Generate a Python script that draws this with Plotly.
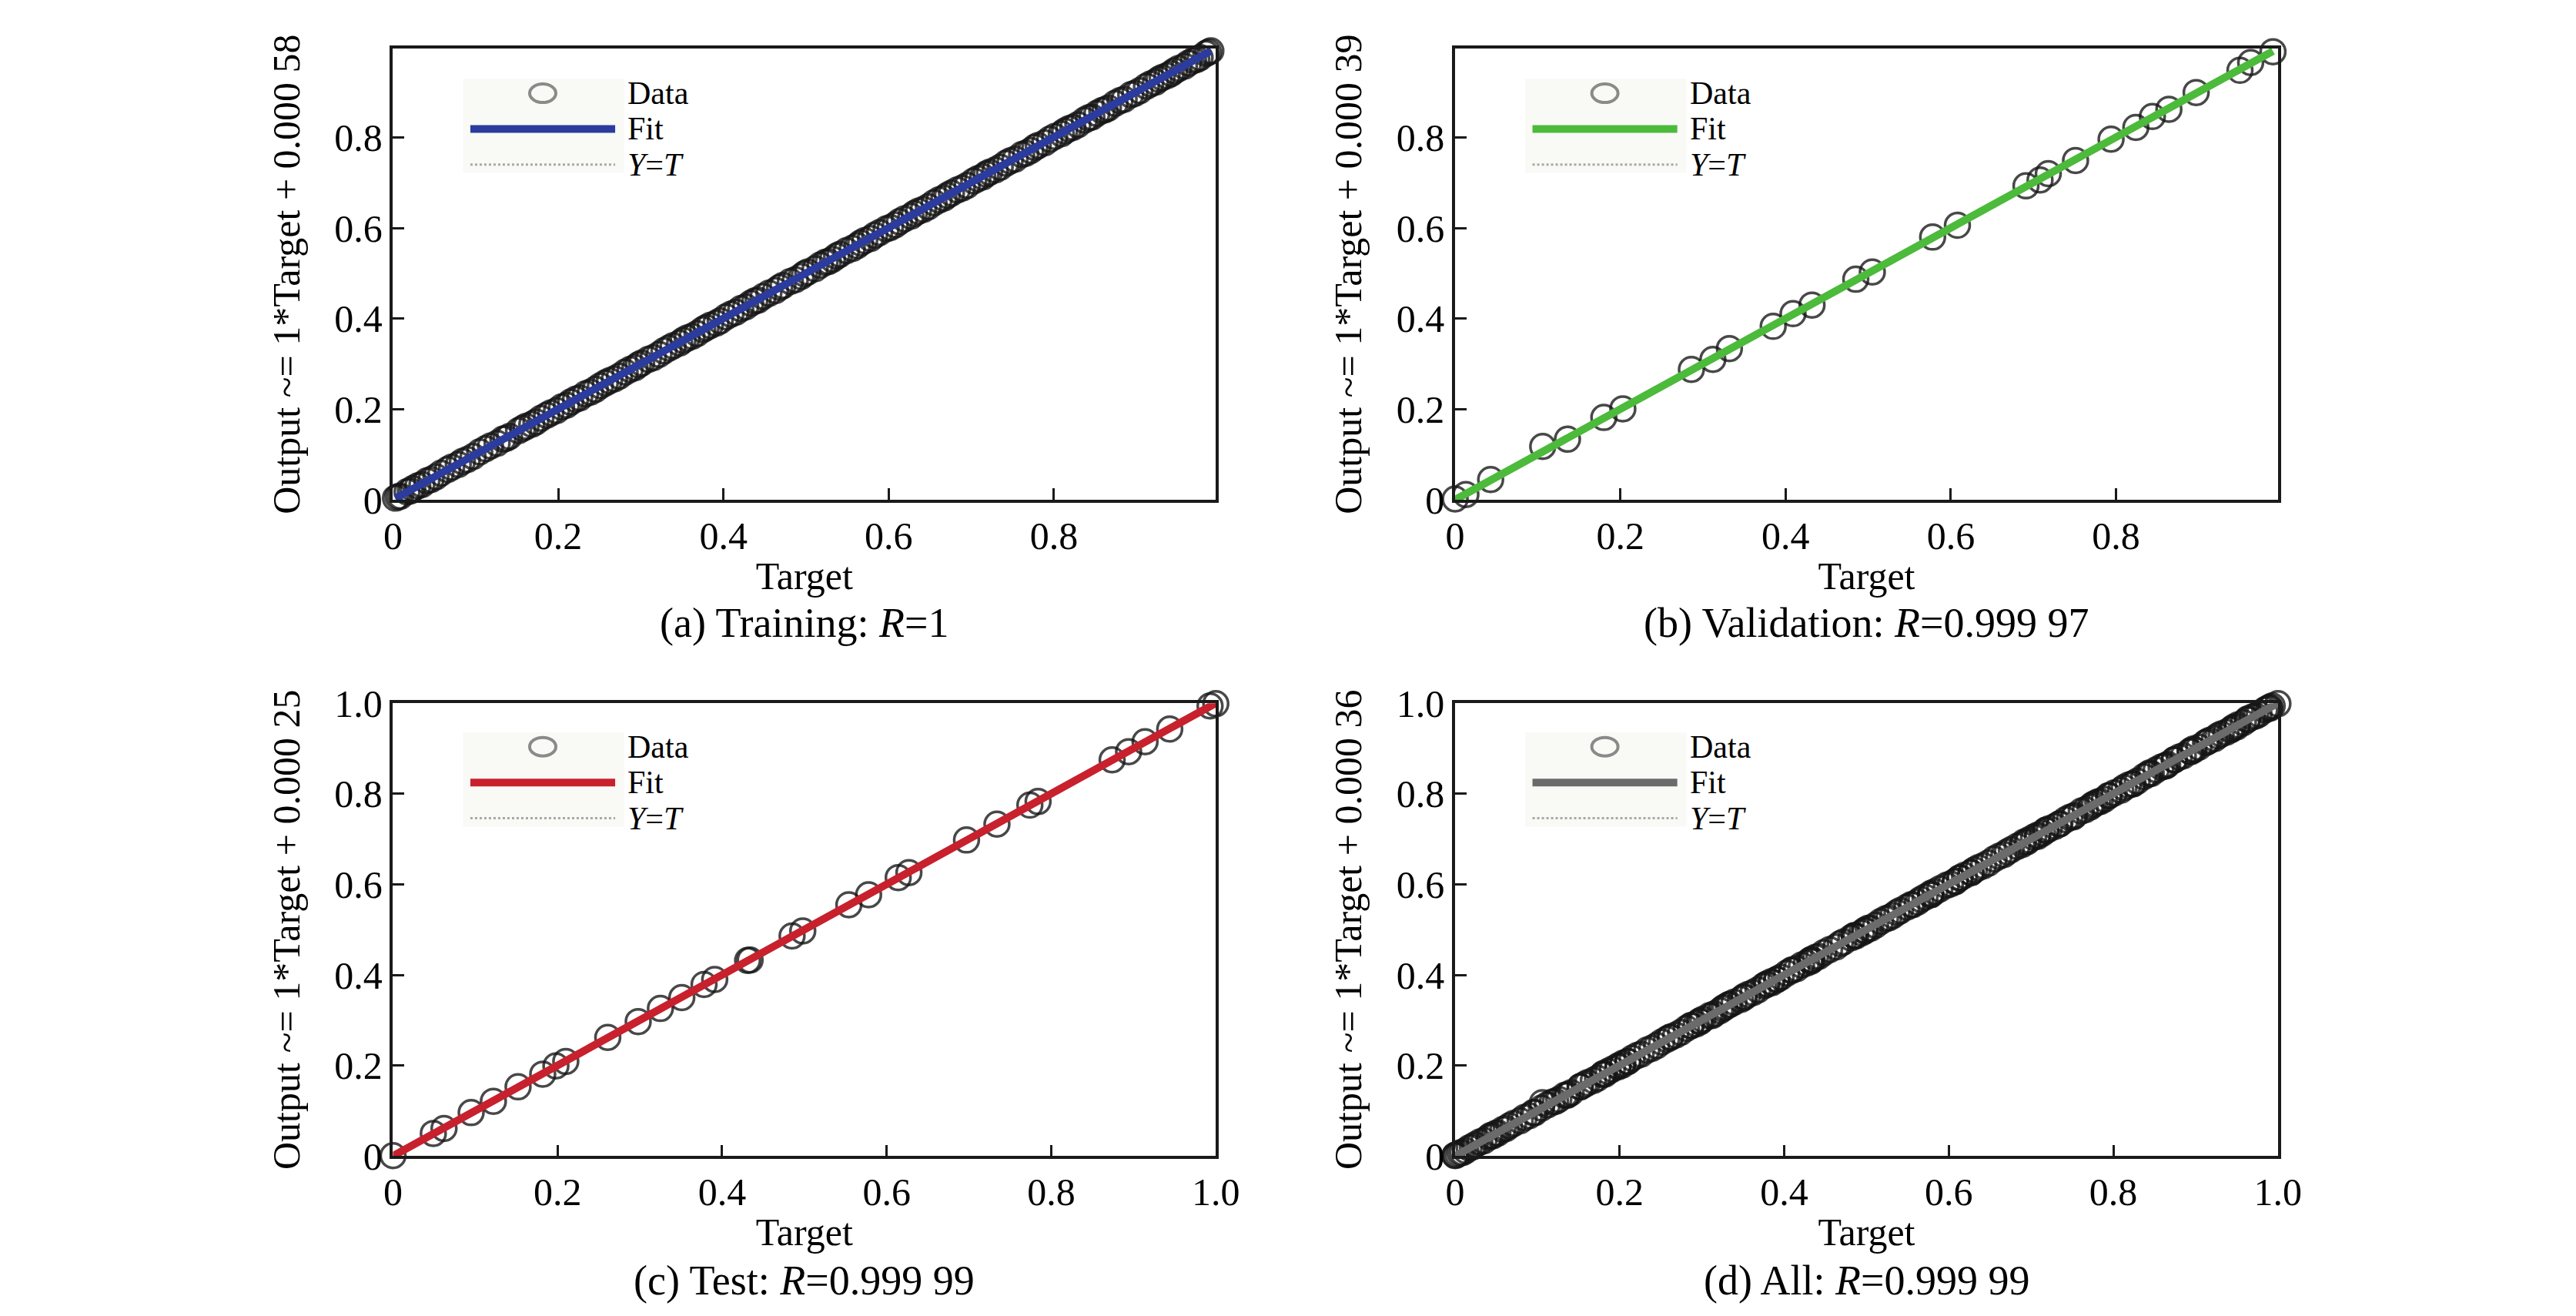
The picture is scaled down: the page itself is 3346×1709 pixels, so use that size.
import plotly.graph_objects as go
from plotly.subplots import make_subplots

# Training set (target, network output)
train_target = [0.003, 0.006, 0.009, 0.017, 0.021, 0.024, 0.030, 0.035, 0.041, 0.046, 0.052, 0.058, 0.066,
                0.071, 0.079, 0.084, 0.090, 0.097, 0.105, 0.112, 0.118, 0.126, 0.133, 0.137, 0.141, 0.152,
                0.157, 0.161, 0.168, 0.173, 0.179, 0.186, 0.191, 0.198, 0.204, 0.210, 0.215, 0.221, 0.226,
                0.233, 0.239, 0.245, 0.251, 0.257, 0.262, 0.268, 0.274, 0.281, 0.287, 0.293, 0.297, 0.301,
                0.309, 0.315, 0.322, 0.328, 0.334, 0.339, 0.347, 0.351, 0.356, 0.362, 0.368, 0.375, 0.379,
                0.384, 0.391, 0.396, 0.403, 0.409, 0.415, 0.421, 0.427, 0.433, 0.438, 0.442, 0.448, 0.455,
                0.463, 0.468, 0.472, 0.481, 0.487, 0.494, 0.498, 0.502, 0.511, 0.517, 0.523, 0.527, 0.532,
                0.537, 0.541, 0.549, 0.556, 0.562, 0.566, 0.571, 0.578, 0.583, 0.589, 0.597, 0.602, 0.608,
                0.613, 0.619, 0.627, 0.631, 0.636, 0.642, 0.648, 0.655, 0.661, 0.667, 0.671, 0.676, 0.683,
                0.689, 0.695, 0.703, 0.708, 0.714, 0.718, 0.722, 0.729, 0.735, 0.742, 0.747, 0.753, 0.761,
                0.766, 0.772, 0.777, 0.781, 0.789, 0.795, 0.801, 0.809, 0.813, 0.818, 0.823, 0.829, 0.837,
                0.842, 0.846, 0.852, 0.858, 0.862, 0.866, 0.874, 0.880, 0.885, 0.893, 0.898, 0.904, 0.912,
                0.917, 0.923, 0.927, 0.931, 0.937, 0.942, 0.946, 0.951, 0.958, 0.963, 0.969, 0.973, 0.977,
                0.984, 0.987, 0.990]
train_output = [0.004, 0.007, 0.008, 0.018, 0.020, 0.025, 0.031, 0.034, 0.042, 0.045, 0.051, 0.059, 0.067,
                0.072, 0.078, 0.085, 0.089, 0.096, 0.106, 0.113, 0.119, 0.125, 0.134, 0.136, 0.140, 0.153,
                0.158, 0.162, 0.167, 0.172, 0.180, 0.187, 0.192, 0.197, 0.205, 0.209, 0.216, 0.222, 0.225,
                0.234, 0.238, 0.244, 0.252, 0.258, 0.263, 0.267, 0.273, 0.282, 0.288, 0.292, 0.298, 0.302,
                0.310, 0.314, 0.321, 0.329, 0.335, 0.340, 0.346, 0.352, 0.357, 0.361, 0.367, 0.376, 0.380,
                0.385, 0.390, 0.395, 0.404, 0.410, 0.414, 0.422, 0.426, 0.434, 0.439, 0.441, 0.449, 0.456,
                0.462, 0.469, 0.473, 0.482, 0.486, 0.493, 0.499, 0.503, 0.510, 0.518, 0.524, 0.526, 0.531,
                0.538, 0.542, 0.550, 0.555, 0.561, 0.567, 0.572, 0.577, 0.584, 0.590, 0.598, 0.601, 0.607,
                0.614, 0.620, 0.626, 0.632, 0.637, 0.641, 0.647, 0.656, 0.662, 0.666, 0.672, 0.677, 0.684,
                0.688, 0.694, 0.704, 0.709, 0.713, 0.719, 0.723, 0.728, 0.734, 0.743, 0.748, 0.752, 0.762,
                0.765, 0.771, 0.778, 0.782, 0.788, 0.796, 0.802, 0.808, 0.814, 0.819, 0.822, 0.828, 0.838,
                0.843, 0.845, 0.853, 0.859, 0.861, 0.865, 0.875, 0.881, 0.884, 0.894, 0.897, 0.903, 0.913,
                0.918, 0.922, 0.928, 0.932, 0.936, 0.941, 0.947, 0.952, 0.957, 0.964, 0.970, 0.972, 0.976,
                0.985, 0.988, 0.991]

# Validation set
val_target = [0.000, 0.013, 0.043, 0.106, 0.136, 0.180, 0.203, 0.286, 0.312, 0.332, 0.385, 0.409, 0.432,
              0.485, 0.505, 0.578, 0.608, 0.691, 0.708, 0.718, 0.751, 0.794, 0.824, 0.844, 0.864, 0.897,
              0.950, 0.963, 0.990]
val_output = [0.002, 0.012, 0.045, 0.118, 0.134, 0.182, 0.201, 0.288, 0.310, 0.334, 0.383, 0.411, 0.430,
              0.487, 0.503, 0.580, 0.606, 0.693, 0.706, 0.720, 0.749, 0.796, 0.822, 0.846, 0.862, 0.899,
              0.948, 0.965, 0.989]

# Test set
test_target = [0.000, 0.049, 0.062, 0.095, 0.122, 0.152, 0.182, 0.198, 0.210, 0.261, 0.298, 0.325, 0.351,
               0.378, 0.391, 0.431, 0.434, 0.485, 0.498, 0.554, 0.578, 0.614, 0.627, 0.697, 0.734, 0.774,
               0.784, 0.874, 0.894, 0.914, 0.944, 0.993, 1.000]
test_output = [0.001, 0.050, 0.061, 0.096, 0.121, 0.153, 0.181, 0.199, 0.209, 0.262, 0.297, 0.326, 0.350,
               0.379, 0.390, 0.432, 0.433, 0.486, 0.497, 0.555, 0.577, 0.615, 0.626, 0.698, 0.733, 0.775,
               0.783, 0.875, 0.893, 0.915, 0.943, 0.994, 0.999]

# "All" panel is every sample together
all_target = train_target + val_target + test_target
all_output = train_output + val_output + test_output

fit_slope = [1, 1, 1, 1]
fit_intercept = [0.00058, 0.00039, 0.00025, 0.00036]
intercept_text = ['0.000 58', '0.000 39', '0.000 25', '0.000 36']
captions = ['(a) Training', '(b) Validation', '(c) Test', '(d) All']
r_text = ['1', '0.999 97', '0.999 99', '0.999 99']
fit_colors = ['#2b3b9e', '#4cba3a', '#c8202d', '#6b6b6b']
axis_max = [0.996, 0.996, 1.0, 1.0]
tick_vals_top = [0, 0.2, 0.4, 0.6, 0.8]
tick_text_top = ['0', '0.2', '0.4', '0.6', '0.8']
tick_vals_bottom = [0, 0.2, 0.4, 0.6, 0.8, 1.0]
tick_text_bottom = ['0', '0.2', '0.4', '0.6', '0.8', '1.0']

FONT = 'Liberation Serif'
W, H = 3346, 1709

x_domains = [[496 / W, 1579 / W], [1894 / W, 2977 / W]]
y_domains = [[1 - 635 / H, 1 - 29 / H], [1 - 1516 / H, 1 - 908 / H]]
caption_y = [1 - 800 / H, 1 - 1683 / H]

panels = [(train_target, train_output), (val_target, val_output),
          (test_target, test_output), (all_target, all_output)]

fig = make_subplots(rows=2, cols=2)

for i, (t, o) in enumerate(panels):
    row, col = i // 2 + 1, i % 2 + 1
    lo, hi = min(t), max(t)
    # Y = T reference line
    fig.add_trace(go.Scatter(x=[lo, hi], y=[lo, hi], mode='lines',
                             line=dict(color='#a0a0a0', width=2, dash='dot')), row=row, col=col)
    # data points
    fig.add_trace(go.Scatter(x=t, y=o, mode='markers', cliponaxis=False,
                             marker=dict(symbol='circle-open', size=32, color='rgba(20,20,20,0.78)',
                                         line=dict(width=3.5))), row=row, col=col)
    # fitted line
    fig.add_trace(go.Scatter(x=[lo, hi], y=[fit_slope[i] * lo + fit_intercept[i], fit_slope[i] * hi + fit_intercept[i]],
                             mode='lines', line=dict(color=fit_colors[i], width=10)), row=row, col=col)

    top = i < 2
    common = dict(range=[0, axis_max[i]], showline=True, mirror=True, linecolor='#1a1a1a', linewidth=3.5,
                  ticks='inside', ticklen=15, tickwidth=3, tickcolor='#1a1a1a', showgrid=False, zeroline=False,
                  tickfont=dict(family=FONT, size=50, color='black'),
                  tickvals=tick_vals_top if top else tick_vals_bottom,
                  ticktext=tick_text_top if top else tick_text_bottom)
    fig.update_xaxes(common, domain=x_domains[col - 1],
                     title=dict(text='Target', font=dict(family=FONT, size=50, color='black'), standoff=8),
                     row=row, col=col)
    fig.update_yaxes(common, domain=y_domains[row - 1],
                     title=dict(text='Output ~= 1*Target + ' + intercept_text[i],
                                font=dict(family=FONT, size=50, color='black'), standoff=30),
                     row=row, col=col)

    # legend drawn inside each panel
    sfx = '' if i == 0 else str(i + 1)
    xr, yr = 'x' + sfx + ' domain', 'y' + sfx + ' domain'
    ys = [0.901, 0.822, 0.743] if top else [0.904, 0.825, 0.746]
    fig.add_shape(type='rect', xref=xr, yref=yr, x0=0.085, x1=0.281, y0=ys[2] - 0.018, y1=ys[0] + 0.032,
                  fillcolor='rgba(242,242,236,0.45)', line=dict(width=0), layer='below')
    fig.add_shape(type='circle', xref=xr, yref=yr, xsizemode='pixel', ysizemode='pixel',
                  xanchor=0.182, yanchor=ys[0], x0=-17, x1=17, y0=-12, y1=12,
                  line=dict(color='#8a8a8a', width=4))
    fig.add_shape(type='line', xref=xr, yref=yr, x0=0.094, x1=0.27, y0=ys[1], y1=ys[1],
                  line=dict(color=fit_colors[i], width=10))
    fig.add_shape(type='line', xref=xr, yref=yr, x0=0.094, x1=0.27, y0=ys[2], y1=ys[2],
                  line=dict(color='#a8a8a8', width=3, dash='dot'))
    for txt, yy in zip(['Data', 'Fit', '<i>Y</i>=<i>T</i>'], ys):
        fig.add_annotation(text=txt, xref=xr, yref=yr, x=0.283, y=yy, xanchor='left', yanchor='middle',
                           showarrow=False, font=dict(family=FONT, size=42, color='black'))

    # caption under panel
    cx = (x_domains[col - 1][0] + x_domains[col - 1][1]) / 2
    fig.add_annotation(text=captions[i] + ': <i>R</i>=' + r_text[i], xref='paper', yref='paper',
                       x=cx, y=caption_y[row - 1], xanchor='center', yanchor='middle', showarrow=False,
                       font=dict(family=FONT, size=54, color='black'))

fig.update_layout(width=W, height=H, margin=dict(l=0, r=0, t=0, b=0), showlegend=False,
                  plot_bgcolor='white', paper_bgcolor='white', font=dict(family=FONT, color='black'))

fig.write_html('out.html')
